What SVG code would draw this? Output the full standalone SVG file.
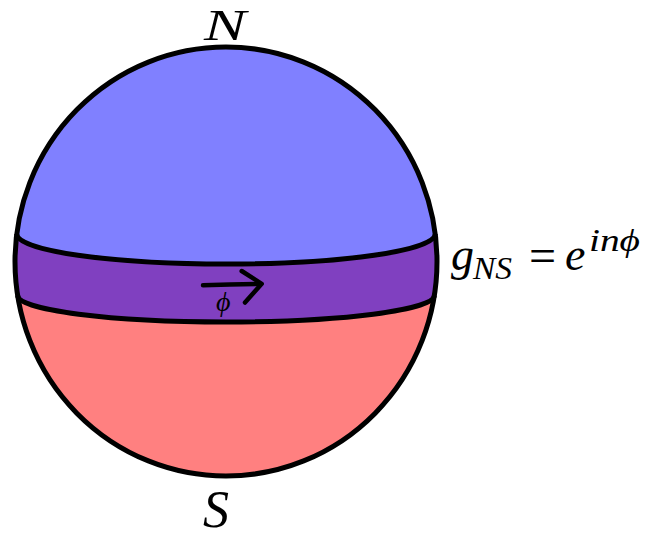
<svg xmlns="http://www.w3.org/2000/svg" width="645" height="537" viewBox="0 0 645 537">
<style>
.ln{fill:none;stroke:#000;stroke-width:5;stroke-linejoin:round}
.m{font-family:"Liberation Serif","DejaVu Serif",serif;font-style:italic;fill:#000}
.up{font-family:"Liberation Serif","DejaVu Serif",serif;font-style:normal;fill:#000}
</style>
<rect width="645" height="537" fill="#fff"/>
<g id="sphere">
<ellipse id="south" cx="226" cy="261.5" rx="211" ry="214.5" fill="#ff8080"/>
<path id="band" d="M17.7 295.5 A211 214.5 0 1 1 434.3 295.5 A208.3 26.5 0 0 1 17.7 295.5 Z" fill="#8040c0"/>
<path id="north" d="M16.7 234 A211 214.5 0 0 1 435.3 234 A209.3 30 0 0 1 16.7 234 Z" fill="#8080ff"/>
<path class="ln" d="M435.3 234 A209.3 30 0 0 1 16.7 234"/>
<path class="ln" d="M434.3 295.5 A208.3 26.5 0 0 1 17.7 295.5"/>
<ellipse class="ln" cx="226" cy="261.5" rx="211" ry="214.5"/>
</g>
<g id="arrow">
<path d="M203 285.3 Q232 284.5 260 284" fill="none" stroke="#000" stroke-width="4.5" stroke-linecap="round"/>
<path d="M241.7 271 L261.7 283.8 L245 302.5" fill="none" stroke="#000" stroke-width="4.5" stroke-linecap="round" stroke-linejoin="round"/>
<text class="m" x="216" y="311" font-size="28">ϕ</text>
</g>
<g id="labels">
<text class="m" x="204" y="40" font-size="44" textLength="42" lengthAdjust="spacingAndGlyphs">N</text>
<text class="m" x="203" y="527" font-size="52">S</text>
<g id="gNS">
<text class="m" x="451" y="270" font-size="46">g</text>
<text class="m" x="473" y="279" font-size="31" textLength="39" lengthAdjust="spacingAndGlyphs">NS</text>
<text class="up" x="529" y="272" font-size="48">=</text>
<text class="m" x="565" y="270" font-size="46">e</text>
<text class="m" x="589" y="251" font-size="32" textLength="51" lengthAdjust="spacingAndGlyphs">inϕ</text>
</g>
</g>
</svg>
